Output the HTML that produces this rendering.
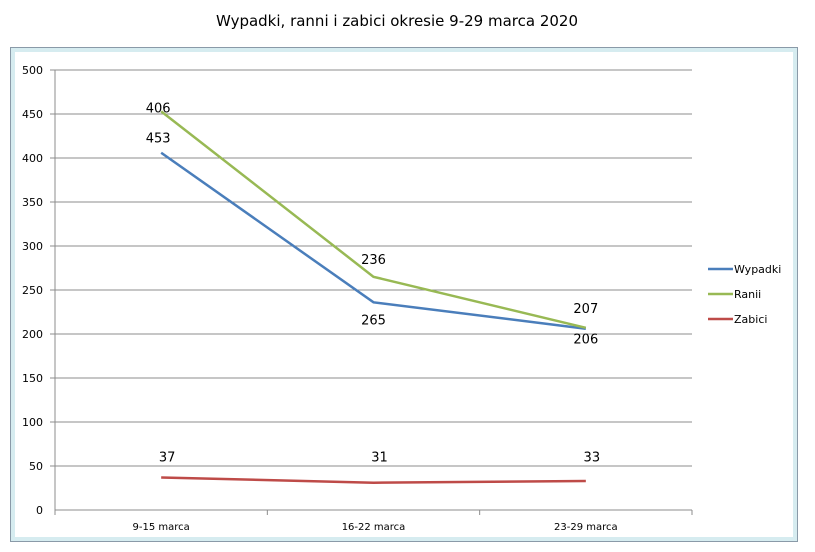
<!DOCTYPE html>
<html><head><meta charset="utf-8"><style>
body{margin:0;background:#fff;}
svg{display:block;font-family:"DejaVu Sans","Liberation Sans",sans-serif;}
</style></head><body>
<svg width="815" height="552">
<text x="397" y="26" text-anchor="middle" font-size="15" fill="#000">Wypadki, ranni i zabici okresie 9-29 marca 2020</text>
<rect x="10.5" y="47.5" width="787" height="494" fill="#fff" stroke="#8a9aa8"/>
<rect x="13" y="50" width="782" height="489" fill="none" stroke="#d6ecf0" stroke-width="4"/>
<g id="grid"></g><g id="axes"></g><g id="series"></g><g id="labels"></g>
<g>
<line x1="708" y1="269" x2="733" y2="269" stroke="#4a7ebb" stroke-width="2.5"/><text x="734" y="273" font-size="11">Wypadki</text>
<line x1="708" y1="294" x2="733" y2="294" stroke="#98b954" stroke-width="2.5"/><text x="734" y="298" font-size="11">Ranii</text>
<line x1="708" y1="319" x2="733" y2="319" stroke="#be4b48" stroke-width="2.5"/><text x="734" y="323" font-size="11">Zabici</text>
</g>
</svg>
<script>
const categories=["9-15 marca","16-22 marca","23-29 marca"];
const wypadki=[406,236,206];
const ranni=[453,265,207];
const zabici=[37,31,33];
const yTicks=[0,50,100,150,200,250,300,350,400,450,500];
const NS="http://www.w3.org/2000/svg";
const L=55,R=692,T=70,B=510;
const y=v=>B-(v/500)*(B-T);
const cw=(R-L)/categories.length;
const x=i=>L+cw*(i+0.5);
function mk(tag,attrs,parent,txt){const e=document.createElementNS(NS,tag);for(const k in attrs)e.setAttribute(k,attrs[k]);if(txt!==undefined)e.textContent=txt;document.getElementById(parent).appendChild(e);return e;}
yTicks.forEach(v=>{
 if(v>0){const g=mk('line',{x1:L-5,x2:R,y1:y(v),y2:y(v),stroke:'#8c8c8c','stroke-width':1},'grid');
 
 }
 const t=mk('text',{x:L-12,y:y(v)+4,'text-anchor':'end','font-size':11},'axes',String(v));
 
 
});
const ax=mk('path',{d:`M${L} ${T}V${B}H${R}`,fill:'none',stroke:'#8c8c8c'},'axes');


for(let i=0;i<=categories.length;i++){mk('line',{x1:L+cw*i,x2:L+cw*i,y1:B,y2:B+5,stroke:'#8c8c8c'},'axes');}
categories.forEach((c,i)=>{const t=mk('text',{x:x(i),y:B+20,'text-anchor':'middle','font-size':10},'axes',c);
 
 });
function line(data,color,name){const p=mk('polyline',{points:data.map((v,i)=>x(i)+','+y(v)).join(' '),fill:'none',stroke:color,'stroke-width':2.5},'series');
 
 }
line(wypadki,'#4a7ebb','line-wypadki');
line(ranni,'#98b954','line-ranni');
line(zabici,'#be4b48','line-zabici');
function lbl(px,py,txt){const t=mk('text',{x:px,y:py,'text-anchor':'middle','font-size':13},'labels',txt);
 
 }
const zMax=Math.max(...zabici);
categories.forEach((c,i)=>{
 if(i===0){lbl(x(i)-3,y(ranni[i])+1,String(wypadki[i]));lbl(x(i)-3,y(wypadki[i])-10,String(ranni[i]));}
 else if(i===1){lbl(x(i),y(ranni[i])-13,String(wypadki[i]));lbl(x(i),y(wypadki[i])+22,String(ranni[i]));}
 else{lbl(x(i),y(ranni[i])-15,String(ranni[i]));lbl(x(i),y(wypadki[i])+15,String(wypadki[i]));}
 lbl(x(i)+6,y(zMax)-16,String(zabici[i]));
});
</script>
</body></html>
